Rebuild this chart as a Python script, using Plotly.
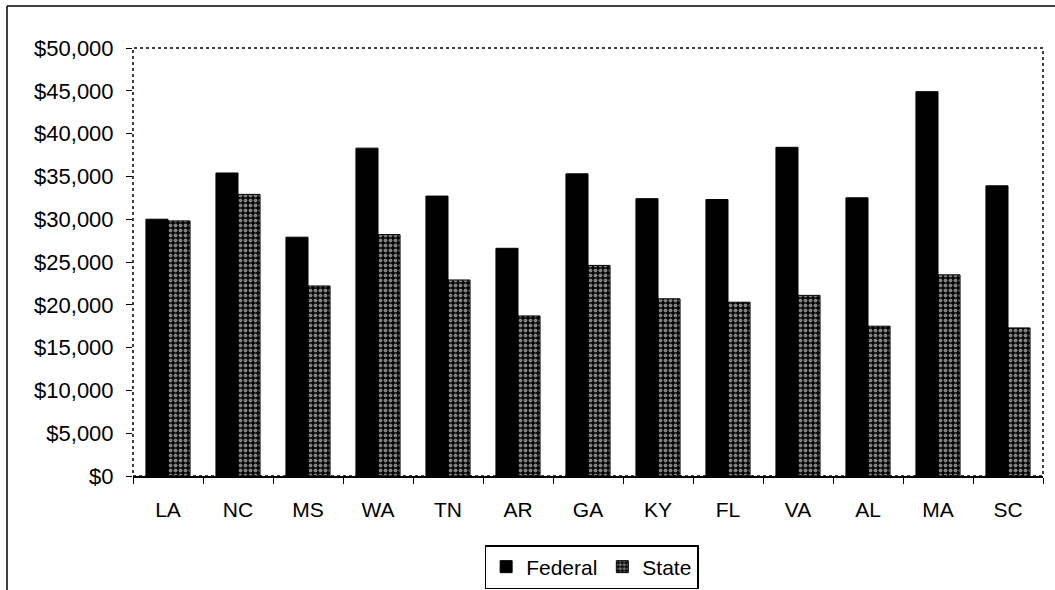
import plotly.graph_objects as go

states = ["LA", "NC", "MS", "WA", "TN", "AR", "GA", "KY", "FL", "VA", "AL", "MA", "SC"]
federal = [30000, 35400, 27900, 38300, 32700, 26600, 35300, 32400, 32300, 38400, 32500, 44900, 33900]
state = [29800, 32900, 22200, 28200, 22900, 18700, 24600, 20700, 20300, 21100, 17500, 23500, 17300]
y_ticks = [0, 5000, 10000, 15000, 20000, 25000, 30000, 35000, 40000, 45000, 50000]

FONT = "Arial, 'Liberation Sans', sans-serif"

fig = go.Figure()
fig.add_trace(go.Bar(
    name="Federal", x=states, y=federal,
    marker=dict(color="black", line=dict(color="black", width=1)),
))
fig.add_trace(go.Bar(
    name="State", x=states, y=state,
    marker=dict(color="black", line=dict(color="black", width=1),
                pattern=dict(shape=".", fillmode="overlay", fgcolor="white",
                             bgcolor="black", size=5, solidity=0.5)),
))

L, R, T, B = 133, 12, 48, 114
W, H = 1055 - L - R, 590 - T - B

fig.update_layout(
    width=1055, height=590,
    margin=dict(l=L, r=R, t=T, b=B, pad=0, autoexpand=False),
    paper_bgcolor="white", plot_bgcolor="white",
    barmode="group", bargap=0.37, bargroupgap=0,
    font=dict(family=FONT, color="black"),
    showlegend=True,
    legend=dict(orientation="h", x=0.504, xanchor="center", y=(476 - 545) / H, yanchor="top",
                bordercolor="black", borderwidth=1.5, font=dict(size=21, family=FONT),
                itemwidth=30, traceorder="normal", tracegroupgap=0),
    xaxis=dict(
        type="category", tickson="boundaries", ticks="outside", ticklen=6, tickcolor="black",
        showline=True, linecolor="black", linewidth=1.5, mirror=False,
        tickfont=dict(size=21, family=FONT), ticklabelstandoff=14, showgrid=False,
    ),
    yaxis=dict(
        range=[0, 50000], tickvals=y_ticks, tickformat="$,.0f",
        ticks="outside", ticklen=6, tickcolor="black",
        showline=False, showgrid=False, zeroline=False,
        tickfont=dict(size=22, family=FONT), ticklabelstandoff=8,
    ),
    shapes=[
        # dotted plot-area frame
        dict(type="rect", xref="paper", yref="paper", x0=0, x1=1, y0=0, y1=1,
             line=dict(color="black", width=1.5, dash="dot"), layer="above"),
        # outer chart border (top and left)
        dict(type="line", xref="paper", yref="paper",
             x0=(7 - L) / W, x1=(1055 - L) / W, y0=(476 - 6) / H, y1=(476 - 6) / H,
             line=dict(color="black", width=1.5)),
        dict(type="line", xref="paper", yref="paper",
             x0=(7 - L) / W, x1=(7 - L) / W, y0=(476 - 6) / H, y1=(476 - 590) / H,
             line=dict(color="black", width=1.5)),
    ],
)

fig.write_html("out.html", config={"displayModeBar": False},
               post_script="document.body.style.margin='0';document.body.style.overflow='hidden';")
